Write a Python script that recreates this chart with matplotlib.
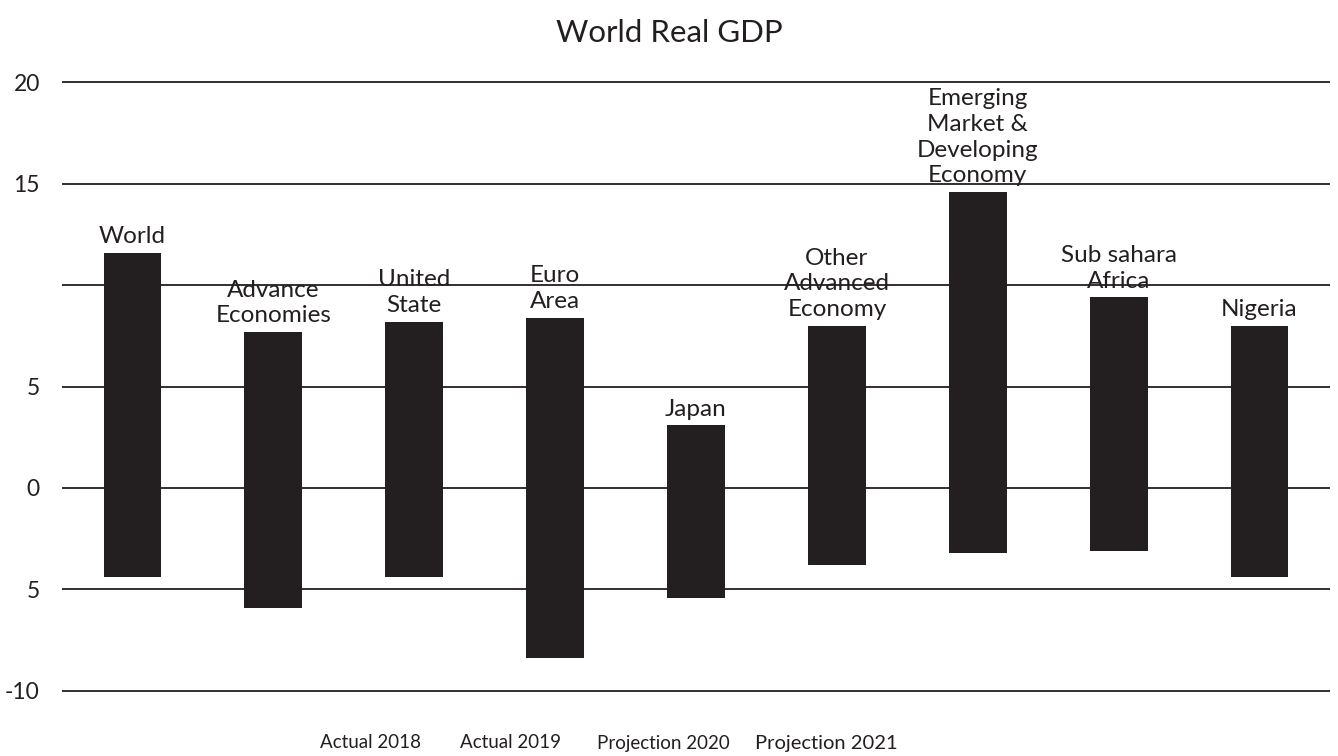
import matplotlib.pyplot as plt

plt.rcParams['font.family'] = ['Lato', 'DejaVu Sans']

# growth range per region: lowest and highest real GDP values
regions = ["World", "Advance\nEconomies", "United\nState", "Euro\nArea", "Japan",
           "Other\nAdvanced\nEconomy", "Emerging\nMarket &\nDeveloping\nEconomy",
           "Sub sahara\nAfrica", "Nigeria"]
low = [-4.4, -5.9, -4.4, -8.4, -5.4, -3.8, -3.2, -3.1, -4.4]
high = [11.6, 7.7, 8.2, 8.4, 3.1, 8.0, 14.6, 9.4, 8.0]

y_ticks = [20, 15, 10, 5, 0, -5, -10]
y_tick_labels = ["20", "15", "", "5", "0", "5", "-10"]

legend_labels = ["Actual 2018", "Actual 2019", "Projection 2020", "Projection 2021"]

ink = "#231f20"

fig = plt.figure(figsize=(13.38, 7.56), dpi=100)
ax = fig.add_axes([62 / 1338, 1 - 697 / 756, 1268 / 1338, (697 - 76) / 756])

x = range(len(regions))
heights = [h - l for h, l in zip(high, low)]
ax.bar(x, heights, bottom=low, width=0.41, color=ink, zorder=3)

for xi, name, top in zip(x, regions, high):
    ax.annotate(name, (xi, top), xytext=(0, 4), textcoords="offset points",
                ha="center", va="bottom", fontsize=17.5, color=ink,
                linespacing=1.27, zorder=1)

ax.set_xlim(-0.5, len(regions) - 0.5)
ax.set_ylim(-10.3, 20.3)
ax.set_yticks(y_ticks)
ax.set_yticklabels(y_tick_labels, fontsize=16.5, color=ink)
ax.tick_params(axis="y", length=0, pad=16)
ax.set_xticks([])
ax.grid(axis="y", color=ink, linewidth=1.3, zorder=2)
ax.set_axisbelow(False)
for spine in ax.spines.values():
    spine.set_visible(False)

fig.text(0.5, 1 - 33 / 756, "World Real GDP", ha="center", va="center",
         fontsize=22.5, color=ink)

legend_x = [370, 511, 663, 826]
for lx, lab in zip(legend_x, legend_labels):
    size = 14.5 if lab == "Projection 2021" else 13.5
    fig.text(lx / 1338, 1 - 743 / 756, lab, ha="center", va="center",
             fontsize=size, color=ink)

fig.savefig("out.png", dpi=100)
